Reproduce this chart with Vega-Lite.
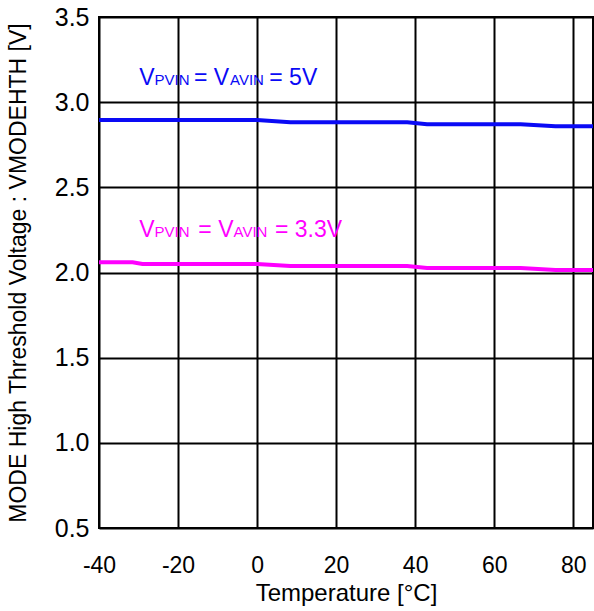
{
  "$schema": "https://vega.github.io/schema/vega-lite/v6.json",
  "width": 494,
  "height": 511,
  "autosize": {"type": "none"},
  "padding": {"left": 99, "top": 17, "right": 1, "bottom": 83},
  "background": "white",
  "config": {
    "font": "Liberation Sans",
    "view": {"stroke": "black", "strokeWidth": 2},
    "axis": {
      "grid": true,
      "gridColor": "black",
      "gridWidth": 2,
      "gridOpacity": 1,
      "domain": false,
      "ticks": false,
      "tickSize": 0,
      "labelFlush": false,
      "labelOverlap": false,
      "labelFont": "Liberation Sans",
      "labelFontSize": 23,
      "labelColor": "black",
      "titleFont": "Liberation Sans",
      "titleFontSize": 23,
      "titleFontWeight": "normal",
      "titleColor": "black"
    }
  },
  "datasets": {
    "lines": [
      {"series": "5V", "temp": -40, "v": 2.895},
      {"series": "5V", "temp": 0, "v": 2.895},
      {"series": "5V", "temp": 8.4, "v": 2.882},
      {"series": "5V", "temp": 38, "v": 2.882},
      {"series": "5V", "temp": 43, "v": 2.870},
      {"series": "5V", "temp": 66.7, "v": 2.870},
      {"series": "5V", "temp": 75.5, "v": 2.858},
      {"series": "5V", "temp": 85, "v": 2.858},
      {"series": "3.3V", "temp": -40, "v": 2.060},
      {"series": "3.3V", "temp": -31.5, "v": 2.060},
      {"series": "3.3V", "temp": -29, "v": 2.050},
      {"series": "3.3V", "temp": 0, "v": 2.050},
      {"series": "3.3V", "temp": 8.4, "v": 2.038},
      {"series": "3.3V", "temp": 38, "v": 2.038},
      {"series": "3.3V", "temp": 43, "v": 2.026},
      {"series": "3.3V", "temp": 66.7, "v": 2.026},
      {"series": "3.3V", "temp": 75.5, "v": 2.015},
      {"series": "3.3V", "temp": 85, "v": 2.015}
    ],
    "bigText": [
      {"series": "5V", "t": "V", "temp": -29.8, "v": 3.101},
      {"series": "5V", "t": "= V", "temp": -15.96, "v": 3.101},
      {"series": "5V", "t": "= 5V", "temp": 3.09, "v": 3.101},
      {"series": "3.3V", "t": "V", "temp": -29.8, "v": 2.21},
      {"series": "3.3V", "t": "= V", "temp": -14.87, "v": 2.21},
      {"series": "3.3V", "t": "= 3.3V", "temp": 4.53, "v": 2.21}
    ],
    "smallText": [
      {"series": "5V", "t": "PVIN", "temp": -25.93, "v": 3.101},
      {"series": "5V", "t": "AVIN", "temp": -6.85, "v": 3.101},
      {"series": "3.3V", "t": "PVIN", "temp": -25.93, "v": 2.21},
      {"series": "3.3V", "t": "AVIN", "temp": -5.97, "v": 2.21}
    ]
  },
  "layer": [
    {
      "data": {"name": "lines"},
      "mark": {"type": "line", "strokeWidth": 4, "clip": true},
      "encoding": {
        "x": {
          "field": "temp", "type": "quantitative",
          "scale": {"domain": [-40, 85], "nice": false},
          "axis": {"values": [-40, -20, 0, 20, 40, 60, 80], "labelExpr": "replace(datum.label, '\u2212', '-')", "labelPadding": 26, "title": "Temperature [°C]", "titleFontSize": 24, "titlePadding": 4}
        },
        "y": {
          "field": "v", "type": "quantitative",
          "scale": {"domain": [0.5, 3.5], "nice": false, "zero": false},
          "axis": {"values": [0.5, 1.0, 1.5, 2.0, 2.5, 3.0, 3.5], "format": ".1f", "labelFontSize": 25, "labelPadding": 10, "title": "MODE High Threshold Voltage : VMODEHTH [V]", "titlePadding": 24}
        },
        "color": {
          "field": "series", "type": "nominal",
          "scale": {"domain": ["5V", "3.3V"], "range": ["#0a0af5", "#ff00ff"]},
          "legend": null
        },
        "detail": {"field": "series"}
      }
    },
    {
      "data": {"name": "bigText"},
      "mark": {"type": "text", "align": "left", "baseline": "alphabetic", "fontSize": 23, "font": "Liberation Sans"},
      "encoding": {
        "x": {"field": "temp", "type": "quantitative"},
        "y": {"field": "v", "type": "quantitative"},
        "text": {"field": "t"},
        "color": {"field": "series", "type": "nominal", "legend": null}
      }
    },
    {
      "data": {"name": "smallText"},
      "mark": {"type": "text", "align": "left", "baseline": "alphabetic", "fontSize": 15, "font": "Liberation Sans"},
      "encoding": {
        "x": {"field": "temp", "type": "quantitative"},
        "y": {"field": "v", "type": "quantitative"},
        "text": {"field": "t"},
        "color": {"field": "series", "type": "nominal", "legend": null}
      }
    }
  ]
}
